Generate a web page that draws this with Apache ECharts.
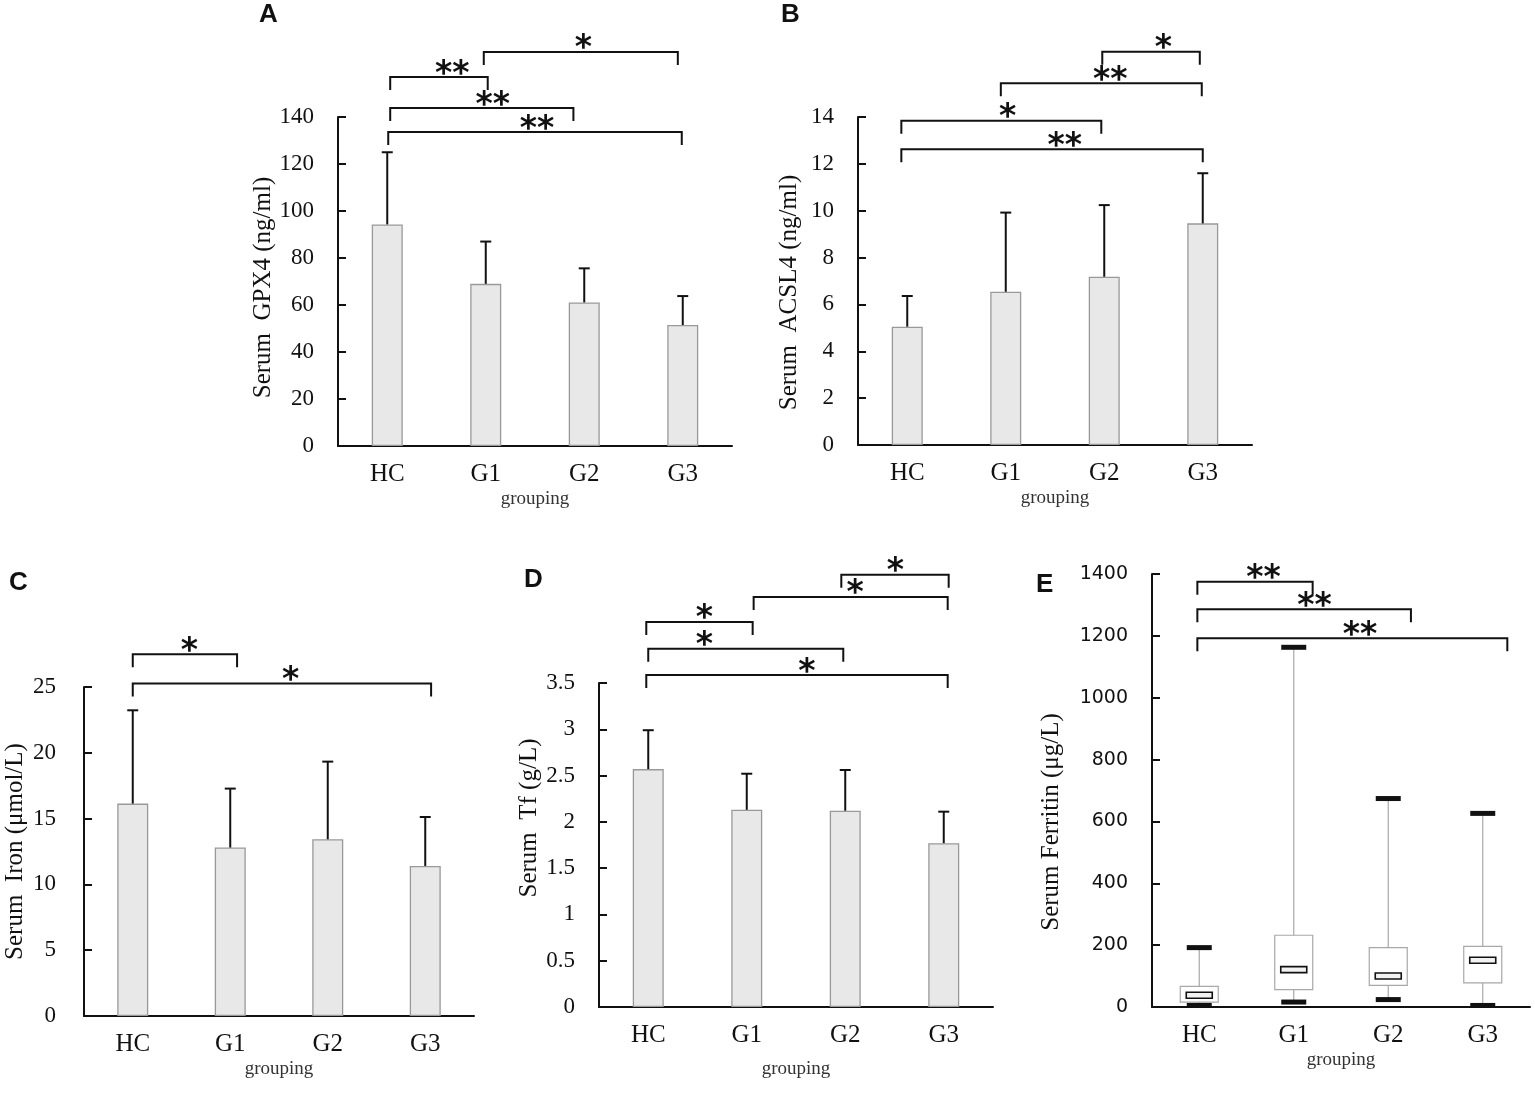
<!DOCTYPE html>
<html>
<head>
<meta charset="UTF-8">
<title>Serum ferroptosis markers</title>
<script src="https://cdn.jsdelivr.net/npm/echarts@6/dist/echarts.min.js"></script>
<style>
    body { margin: 0; padding: 0; background: #fff; }
    #main { width: 1535px; height: 1105px; }
</style>
</head>
<body>
<div id="main"></div>
<script type="text/javascript">
// groups
var categories = ['HC', 'G1', 'G2', 'G3'];

// A: GPX4 mean and mean+SD (ng/ml)
var gpx4Mean = [94.3, 69.0, 61.1, 51.5];
var gpx4Upper = [125.0, 87.0, 75.6, 63.8];
// B: ACSL4 (ng/ml)
var acsl4Mean = [5.05, 6.54, 7.18, 9.46];
var acsl4Upper = [6.36, 9.92, 10.24, 11.6];
// C: serum iron (umol/L)
var ironMean = [16.14, 12.8, 13.43, 11.4];
var ironUpper = [23.23, 17.28, 19.33, 15.12];
// D: transferrin (g/L)
var tfMean = [2.57, 2.13, 2.12, 1.77];
var tfUpper = [2.99, 2.52, 2.56, 2.11];
// E: ferritin box plot [min, q1, median, q3, max] (ug/L)
var ferritinBox = [
    [5, 16, 38, 67, 192],
    [16, 56, 121, 232, 1163],
    [24, 70, 100, 192, 674],
    [5, 78, 151, 196, 626]
];

// significance brackets: [from group, to group, level (axis units), star position, stars]
var bracketsA = [
    [0.03, 1.02, 157, 0.66, '**'],
    [0.98, 2.95, 167.7, 1.99, '*'],
    [0.03, 1.89, 143.8, 1.07, '**'],
    [0.01, 2.99, 133.6, 1.52, '**']
];
var bracketsB = [
    [1.98, 2.97, 16.79, 2.6, '*'],
    [0.95, 2.99, 15.44, 2.06, '**'],
    [-0.06, 1.97, 13.84, 1.02, '*'],
    [-0.06, 3.0, 12.62, 1.6, '**']
];
var bracketsC = [
    [0.0, 1.07, 27.49, 0.58, '*'],
    [0.0, 3.06, 25.26, 1.62, '*']
];
var bracketsD = [
    [1.96, 3.05, 4.67, 2.51, '*'],
    [1.07, 3.04, 4.43, 2.1, '*'],
    [-0.02, 1.06, 4.16, 0.57, '*'],
    [0.0, 1.98, 3.87, 0.57, '*'],
    [-0.02, 3.04, 3.587, 1.61, '*']
];
var bracketsE = [
    [-0.02, 1.2, 1375, 0.68, '**'],
    [-0.02, 2.24, 1286, 1.22, '**'],
    [-0.02, 3.26, 1192, 1.7, '**']
];

var serif = 'Liberation Serif';
var black = '#111';

var panels = [
    { letter: 'A', lx: 259, ly: 2, grid: [338, 117, 394, 329], max: 140, step: 20,
      name: 'Serum  GPX4 (ng/ml)', namePad: [0, 12, 0, 0], gap: 44,
      mean: gpx4Mean, upper: gpx4Upper, brackets: bracketsA },
    { letter: 'B', lx: 781, ly: 2, grid: [858, 117, 394, 328], max: 14, step: 2,
      name: 'Serum  ACSL4 (ng/ml)', namePad: [0, 23, 0, 0], gap: 44,
      mean: acsl4Mean, upper: acsl4Upper, brackets: bracketsB },
    { letter: 'C', lx: 9, ly: 570, grid: [84, 687, 390, 329], max: 25, step: 5,
      name: 'Serum  Iron (μmol/L)', namePad: [0, 0, 0, 0], gap: 44, labelMargin: 28,
      mean: ironMean, upper: ironUpper, brackets: bracketsC },
    { letter: 'D', lx: 524, ly: 567, grid: [599, 683, 394, 324], max: 3.5, step: 0.5,
      name: 'Serum  Tf (g/L)', namePad: [0, 0, 0, 54], gap: 53,
      mean: tfMean, upper: tfUpper, brackets: bracketsD },
    { letter: 'E', lx: 1036, ly: 572, grid: [1152, 574, 378, 433], max: 1400, step: 200,
      name: 'Serum Ferritin (μg/L)', namePad: [0, 63, 0, 0], gap: 44, nameGap: 88,
      box: ferritinBox, brackets: bracketsE, sansTicks: true }
];

function bracketRenderer(list) {
    return function (params, api) {
        var b = list[params.dataIndex];
        var p0 = api.coord([0, b[2]]);
        var p1 = api.coord([1, b[2]]);
        var step = p1[0] - p0[0];
        var y = p0[1];
        var xa = p0[0] + b[0] * step;
        var xb = p0[0] + b[1] * step;
        var drop = 13;
        return {
            type: 'group',
            children: [{
                type: 'polyline',
                shape: { points: [[xa, y + drop], [xa, y], [xb, y], [xb, y + drop]] },
                style: { stroke: black, lineWidth: 2, fill: null }
            }, {
                type: 'text',
                x: p0[0] + b[3] * step,
                y: y - 2,
                style: {
                    text: b[4], fill: black, fontSize: 33, fontWeight: 'bold',
                    fontFamily: 'DejaVu Sans', align: 'center', verticalAlign: 'middle'
                }
            }]
        };
    };
}

function errorBarRenderer(params, api) {
    var i = api.value(0);
    var base = api.coord([i, api.value(1)]);
    var top = api.coord([i, api.value(2)]);
    var cap = 5.5;
    return {
        type: 'group',
        children: [{
            type: 'line',
            shape: { x1: base[0], y1: base[1], x2: top[0], y2: top[1] },
            style: { stroke: black, lineWidth: 2 }
        }, {
            type: 'line',
            shape: { x1: top[0] - cap, y1: top[1], x2: top[0] + cap, y2: top[1] },
            style: { stroke: black, lineWidth: 2 }
        }]
    };
}

function boxRenderer(params, api) {
    var i = api.value(0);
    var pMin = api.coord([i, api.value(1)]);
    var pQ1 = api.coord([i, api.value(2)]);
    var pMed = api.coord([i, api.value(3)]);
    var pQ3 = api.coord([i, api.value(4)]);
    var pMax = api.coord([i, api.value(5)]);
    var x = pMed[0];
    var halfBox = 19, halfCap = 12.5, halfMed = 13;
    var grey = { stroke: '#a8a8a8', lineWidth: 1.2 };
    return {
        type: 'group',
        children: [{
            type: 'line', shape: { x1: x, y1: pMax[1], x2: x, y2: pQ3[1] }, style: grey
        }, {
            type: 'line', shape: { x1: x, y1: pQ1[1], x2: x, y2: pMin[1] }, style: grey
        }, {
            type: 'rect',
            shape: { x: x - halfBox, y: pQ3[1], width: halfBox * 2, height: pQ1[1] - pQ3[1] },
            style: { fill: '#fff', stroke: '#a8a8a8', lineWidth: 1.2 }
        }, {
            type: 'rect',
            shape: { x: x - halfCap, y: pMax[1] - 2.5, width: halfCap * 2, height: 5 },
            style: { fill: black }
        }, {
            type: 'rect',
            shape: { x: x - halfCap, y: pMin[1] - 2.5, width: halfCap * 2, height: 5 },
            style: { fill: black }
        }, {
            type: 'rect',
            shape: { x: x - halfMed, y: pMed[1] - 3, width: halfMed * 2, height: 6 },
            style: { fill: '#f2f2f2', stroke: black, lineWidth: 1.6 }
        }]
    };
}

var option = {
    backgroundColor: '#fff',
    animation: false,
    title: [], grid: [], xAxis: [], yAxis: [], series: []
};

panels.forEach(function (p, k) {
    option.title.push({
        text: p.letter, left: p.lx, top: p.ly, padding: 0,
        textStyle: { fontFamily: 'Liberation Sans', fontWeight: 'bold', fontSize: 26, color: black }
    });
    option.grid.push({
        left: p.grid[0], top: p.grid[1], width: p.grid[2], height: p.grid[3],
        containLabel: false, outerBoundsMode: 'none'
    });
    option.xAxis.push({
        type: 'category', gridIndex: k, data: categories,
        name: 'grouping', nameLocation: 'middle', nameGap: p.gap,
        nameTextStyle: { fontFamily: serif, fontSize: 19, color: '#333' },
        axisLine: { lineStyle: { color: black, width: 2 } },
        axisTick: { show: false },
        axisLabel: { fontFamily: serif, fontSize: 25, color: black, margin: 16 }
    });
    option.yAxis.push({
        type: 'value', gridIndex: k, min: 0, max: p.max, interval: p.step,
        name: p.name, nameLocation: 'middle', nameGap: p.nameGap || 56,
        nameTextStyle: { fontFamily: serif, fontSize: 25, color: black, padding: p.namePad },
        axisLine: { show: true, lineStyle: { color: black, width: 2 } },
        axisTick: { show: true, inside: true, length: 8, lineStyle: { color: black, width: 2 } },
        splitLine: { show: false },
        axisLabel: {
            fontFamily: p.sansTicks ? 'DejaVu Sans' : serif,
            fontSize: p.sansTicks ? 19 : 23,
            color: black, margin: p.labelMargin || 24,
            formatter: function (v) { return String(v); }
        }
    });
    if (p.mean) {
        option.series.push({
            type: 'bar', xAxisIndex: k, yAxisIndex: k, data: p.mean, barWidth: 31,
            itemStyle: { color: '#e8e8e8', borderColor: '#999', borderWidth: 1.3 },
            z: 2
        });
        option.series.push({
            type: 'custom', xAxisIndex: k, yAxisIndex: k, z: 3,
            renderItem: errorBarRenderer,
            data: p.mean.map(function (m, i) { return [i, m, p.upper[i]]; })
        });
    }
    if (p.box) {
        option.series.push({
            type: 'custom', xAxisIndex: k, yAxisIndex: k, z: 3,
            renderItem: boxRenderer,
            data: p.box.map(function (b, i) { return [i].concat(b); })
        });
    }
    option.series.push({
        type: 'custom', xAxisIndex: k, yAxisIndex: k, z: 4, clip: false,
        renderItem: bracketRenderer(p.brackets),
        data: p.brackets.map(function (b) { return [0, 0]; })
    });
});

var myChart = echarts.init(document.getElementById('main'));
myChart.setOption(option);
</script>
</body>
</html>
